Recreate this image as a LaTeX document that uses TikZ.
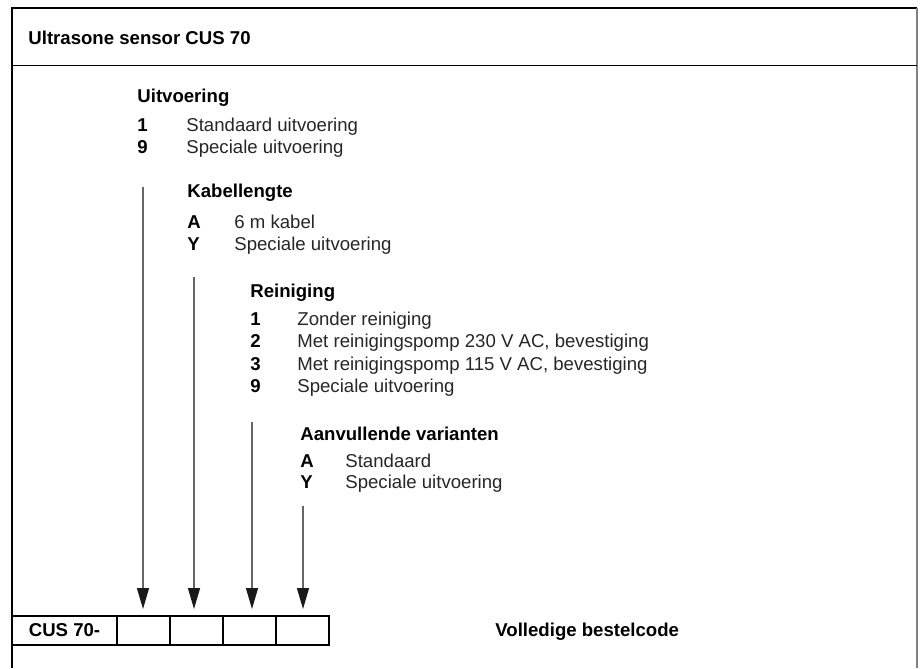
\documentclass[tikz,border=0pt]{standalone}
\usepackage{fontspec}
\setmainfont{Liberation Sans}
\usetikzlibrary{arrows.meta}
\tikzset{
  head/.style={font=\fontsize{9.3}{11}\selectfont\bfseries, anchor=base west, inner sep=0pt},
  key/.style={font=\fontsize{9.3}{11}\selectfont\bfseries, anchor=base west, inner sep=0pt},
  item/.style={font=\fontsize{9.3}{11}\selectfont, text=black!85, anchor=base west, inner sep=0pt},
  codebox/.style={draw, line width=0.75pt, minimum height=14.5pt, inner sep=0pt, outer sep=0pt, anchor=west},
  pointer/.style={draw=black!60, line width=0.6pt, -{Triangle[width=6pt,length=10.5pt,color=black!90]}, shorten >=3.5pt},
}
\begin{document}
\begin{tikzpicture}[x=0.5pt,y=-0.5pt]
\useasboundingbox (0,0) rectangle (924,668);
% frame and title
\draw[line width=0.6pt] (12,668) -- (12,8) -- (917,8);
\draw[black!50, line width=1pt] (917,8) -- (917,668);
\draw[line width=0.6pt] (12,65.5) -- (917,65.5);
\node[head] (title) at (28,45) {Ultrasone sensor CUS 70};

% Uitvoering
\node[head] (uitv) at (137,103) {Uitvoering};
\foreach \k/\t [count=\i] in {1/Standaard uitvoering,9/Speciale uitvoering} {
  \node[key] (uitvk\i) at (137,{131.5+22.3*(\i-1)}) {\k};
  \node[item] (uitvt\i) at (186,{131.5+22.3*(\i-1)}) {\t};
}

% Kabellengte
\node[head] (kabel) at (187,198) {Kabellengte};
\foreach \k/\t [count=\i] in {A/6 m kabel,Y/Speciale uitvoering} {
  \node[key] (kabelk\i) at (187,{228+22.7*(\i-1)}) {\k};
  \node[item] (kabelt\i) at (234,{228+22.7*(\i-1)}) {\t};
}

% Reiniging
\node[head] (rein) at (250,297) {Reiniging};
\foreach \k/\t [count=\i] in {1/Zonder reiniging,2/{Met reinigingspomp 230 V AC, bevestiging},3/{Met reinigingspomp 115 V AC, bevestiging},9/Speciale uitvoering} {
  \node[key] (reink\i) at (250,{325.5+22.3*(\i-1)}) {\k};
  \node[item] (reint\i) at (297,{325.5+22.3*(\i-1)}) {\t};
}

% Aanvullende varianten
\node[head] (aanv) at (300,440) {Aanvullende varianten};
\foreach \k/\t [count=\i] in {A/Standaard,Y/Speciale uitvoering} {
  \node[key] (aanvk\i) at (300,{467+21.5*(\i-1)}) {\k};
  \node[item] (aanvt\i) at (345,{467+21.5*(\i-1)}) {\t};
}

% order code
\node[codebox, minimum width=52.5pt, font=\fontsize{9.3}{11}\selectfont\bfseries] (cus) at (12,630.5) {CUS 70-};
\node[codebox, minimum width=26.5pt] (b1) at (cus.east) {};
\node[codebox, minimum width=26.5pt] (b2) at (b1.east) {};
\node[codebox, minimum width=26.5pt] (b3) at (b2.east) {};
\node[codebox, minimum width=26.5pt] (b4) at (b3.east) {};
\node[head] (full) at (495,636) {Volledige bestelcode};

% pointers
\coordinate (s1) at (143,187);
\coordinate (s2) at (194,277);
\coordinate (s3) at (252,422);
\coordinate (s4) at (303,506);
\foreach \i in {1,...,4}
  \draw[pointer] (s\i) -- (s\i |- b\i.north);
\end{tikzpicture}
\end{document}
